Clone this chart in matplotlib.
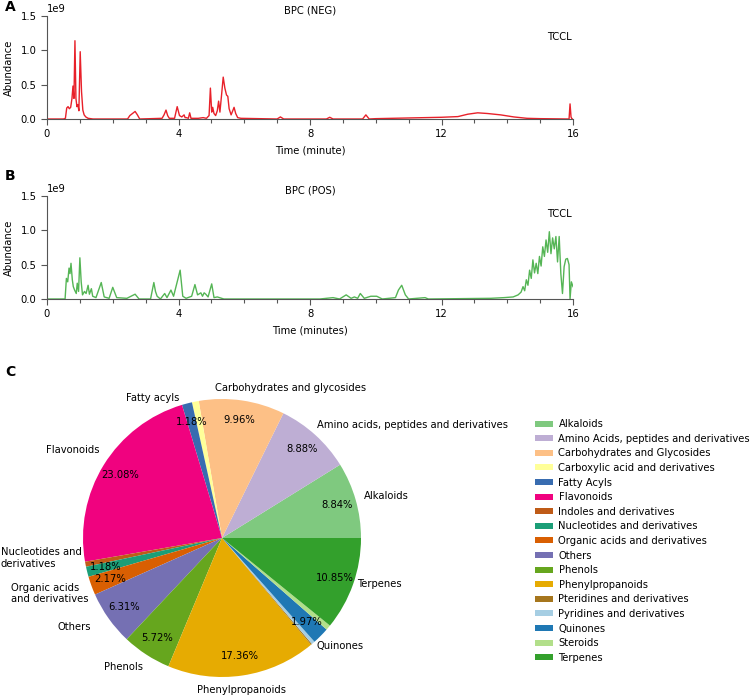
import matplotlib
matplotlib.use("Agg")
import matplotlib.pyplot as plt
from matplotlib.ticker import MultipleLocator
import numpy as np

plt.rcParams['font.family'] = ['DejaVu Sans']
FS = 7.2

# ---------------- data ----------------
neg_time = [0, 0.5, 0.56, 0.60, 0.64, 0.68, 0.72, 0.76, 0.79, 0.82, 0.85, 0.88, 0.91, 0.94,
            0.97, 1.01, 1.05, 1.09, 1.13, 1.18, 1.25, 1.4, 2.45, 2.52, 2.6, 2.68, 2.75, 2.82,
            3.5, 3.56, 3.62, 3.67, 3.72, 3.88, 3.96, 4.03, 4.1, 4.17, 4.2, 4.24, 4.3, 4.34,
            4.38, 4.6, 4.75, 4.85, 4.93, 4.97, 5.01, 5.04, 5.08, 5.13, 5.18, 5.22, 5.26, 5.31,
            5.36, 5.41, 5.46, 5.5, 5.54, 5.6, 5.65, 5.69, 5.74, 5.8, 5.9, 7.0, 7.1, 7.2, 8.5,
            8.6, 8.7, 9.6, 9.7, 9.8, 10.0, 11.0, 12.0, 12.5, 12.8, 13.1, 13.4, 13.8, 14.2, 14.6,
            15.0, 15.88, 15.91, 15.94, 15.97, 16.0]
neg_abund = [0, 0, 0.01, 0.16, 0.18, 0.15, 0.17, 0.30, 0.48, 0.30, 1.14, 0.30, 0.18, 0.21,
             0.12, 0.98, 0.40, 0.13, 0.06, 0.03, 0.01, 0.0, 0.0, 0.05, 0.08, 0.11, 0.06, 0.0,
             0.01, 0.06, 0.13, 0.05, 0.01, 0.01, 0.18, 0.05, 0.03, 0.06, 0.02, 0.02, 0.01, 0.09,
             0.01, 0.01, 0.02, 0.01, 0.05, 0.45, 0.10, 0.17, 0.08, 0.05, 0.12, 0.26, 0.10, 0.35,
             0.61, 0.45, 0.35, 0.33, 0.15, 0.06, 0.12, 0.17, 0.08, 0.02, 0.01, 0.0, 0.03, 0.0, 0.0,
             0.025, 0.0, 0.0, 0.06, 0.0, 0.005, 0.015, 0.025, 0.035, 0.07, 0.09, 0.08, 0.06, 0.03, 0.01,
             0.005, 0.0, 0.22, 0.03, 0.0, 0.0]

pos_time = [0, 0.55, 0.59, 0.63, 0.67, 0.70, 0.73, 0.77, 0.80, 0.84, 0.89, 0.92, 0.96, 1.00,
            1.04, 1.08, 1.14, 1.19, 1.25, 1.29, 1.35, 1.39, 1.49, 1.65, 1.74, 1.89, 2.0, 2.12,
            2.43, 2.68, 2.80, 3.15, 3.25, 3.30, 3.35, 3.45, 3.58, 3.65, 3.77, 3.85, 4.05, 4.13,
            4.23, 4.40, 4.50, 4.58, 4.68, 4.73, 4.78, 4.83, 4.90, 5.01, 5.08, 5.18, 5.38, 7.0,
            8.3, 8.7, 8.9, 9.1, 9.25, 9.35, 9.45, 9.53, 9.65, 9.85, 10.03, 10.2, 10.6, 10.69,
            10.79, 10.9, 11.0, 11.5, 11.6, 13.5, 13.9, 14.18, 14.33, 14.42, 14.48, 14.53, 14.58,
            14.63, 14.68, 14.73, 14.78, 14.83, 14.88, 14.93, 14.98, 15.03, 15.08, 15.13, 15.18,
            15.23, 15.28, 15.33, 15.38, 15.43, 15.48, 15.53, 15.58, 15.63, 15.68, 15.73, 15.78,
            15.83, 15.88, 15.91, 15.95, 16.0]
pos_abund = [0, 0, 0.30, 0.25, 0.45, 0.37, 0.52, 0.28, 0.18, 0.13, 0.08, 0.23, 0.11, 0.60,
             0.25, 0.06, 0.11, 0.08, 0.20, 0.07, 0.15, 0.04, 0.02, 0.24, 0.03, 0.01, 0.17, 0.02,
             0.01, 0.07, 0.0, 0.0, 0.24, 0.11, 0.04, 0.0, 0.08, 0.02, 0.13, 0.04, 0.42, 0.04,
             0.01, 0.04, 0.21, 0.06, 0.09, 0.04, 0.09, 0.07, 0.03, 0.22, 0.02, 0.03, 0.0, 0.0,
             0.0, 0.02, 0.0, 0.06, 0.01, 0.03, 0.01, 0.08, 0.01, 0.04, 0.04, 0.0, 0.02, 0.13,
             0.20, 0.06, 0.0, 0.02, 0.0, 0.01, 0.02, 0.03, 0.06, 0.10, 0.18, 0.12, 0.28,
             0.20, 0.42, 0.30, 0.57, 0.38, 0.52, 0.37, 0.62, 0.48, 0.76, 0.62, 0.86,
             0.68, 0.98, 0.66, 0.89, 0.73, 0.91, 0.54, 0.91, 0.37, 0.08, 0.47, 0.58,
             0.59, 0.50, 0.0, 0.25, 0.18]

x_ticks = [0, 4, 8, 12, 16]

pie_categories = ["Alkaloids", "Amino Acids, peptides and derivatives", "Carbohydrates and Glycosides",
                  "Carboxylic acid and derivatives", "Fatty Acyls", "Flavonoids",
                  "Indoles and derivatives", "Nucleotides and derivatives",
                  "Organic acids and derivatives", "Others", "Phenols", "Phenylpropanoids",
                  "Pteridines and derivatives", "Pyridines and derivatives", "Quinones",
                  "Steroids", "Terpenes"]
pie_values = [8.84, 8.88, 9.96, 0.79, 1.18, 23.08, 0.59, 1.18, 2.17, 6.31, 5.72, 17.36,
              0.14, 0.39, 1.97, 0.59, 10.85]
pie_labels = ["Alkaloids", "Amino acids, peptides and derivatives", "Carbohydrates and glycosides",
              "", "Fatty acyls", "Flavonoids", "", "Nucleotides and\nderivatives",
              "Organic acids\nand derivatives", "Others", "Phenols", "Phenylpropanoids",
              "", "", "Quinones", "", "Terpenes"]

# ---------------- style ----------------
pie_colors = ["#7fc97f", "#beaed4", "#fdc086", "#ffff99", "#386cb0", "#f0027f", "#bf5b17",
              "#1b9e77", "#d95f02", "#7570b3", "#66a61e", "#e6ab02", "#a6761d",
              "#a6cee3", "#1f78b4", "#b2df8a", "#33a02c"]
# label anchor positions (pie radius units) and alignment
label_pos = [(1.02, 0.30, 'left'), (0.68, 0.81, 'left'), (-0.05, 1.08, 'left'), None,
             (-0.31, 1.01, 'right'), (-0.88, 0.63, 'right'), None, (-1.01, -0.145, 'right'),
             (-0.96, -0.40, 'right'), (-0.94, -0.64, 'right'), (-0.57, -0.93, 'right'),
             (0.14, -1.09, 'center'), None, None, (0.68, -0.78, 'left'), None,
             (0.97, -0.33, 'left')]

W, H = 753, 700
fig = plt.figure(figsize=(W / 100, H / 100), dpi=100)


def chrom(rect, t, a, color, title, xlabel, tccl_y):
    ax = fig.add_axes(rect)
    ax.plot(t, np.array(a) * 1e9, color=color, lw=1.0)
    ax.set_xlim(0, 16)
    ax.set_ylim(0, 1.5e9)
    ax.set_xticks(x_ticks)
    ax.xaxis.set_minor_locator(MultipleLocator(1))
    ax.yaxis.set_major_locator(MultipleLocator(0.5e9))
    ax.ticklabel_format(axis='y', style='sci', scilimits=(0, 0))
    ax.yaxis.get_offset_text().set_fontsize(FS)
    for s in ('top', 'right'):
        ax.spines[s].set_visible(False)
    for s in ('left', 'bottom'):
        ax.spines[s].set_color('#555555')
        ax.spines[s].set_linewidth(0.8)
    ax.tick_params(axis='both', which='major', labelsize=FS, length=4, width=0.8, color='#555555', pad=3.5)
    ax.tick_params(axis='x', which='minor', length=3, width=0.8, color='#555555')
    ax.set_ylabel("Abundance", fontsize=FS, labelpad=5)
    ax.set_xlabel(xlabel, fontsize=FS, labelpad=4.5)
    ax.set_title(title, fontsize=FS, pad=2)
    ax.text(15.6, tccl_y, "TCCL", fontsize=FS, ha='center', va='center')
    return ax


axA = chrom([47 / W, 1 - 119 / H, 526 / W, 103 / H], neg_time, neg_abund, '#e8212a',
            "BPC (NEG)", "Time (minute)", 1.2e9)
axB = chrom([47 / W, 1 - 299 / H, 526 / W, 103 / H], pos_time, pos_abund, '#55b555',
            "BPC (POS)", "Time (minutes)", 1.24e9)

fig.text(5 / W, 1 - 7 / H, "A", fontsize=10, fontweight='bold', ha='left', va='center')
fig.text(5 / W, 1 - 176 / H, "B", fontsize=10, fontweight='bold', ha='left', va='center')
fig.text(5 / W, 1 - 372 / H, "C", fontsize=10, fontweight='bold', ha='left', va='center')

# ---------------- pie ----------------
R = 139.0
cx, cy = 222.0, H - 538.0
half = 1.15 * R
axC = fig.add_axes([(cx - half) / W, (cy - half) / H, 2 * half / W, 2 * half / H])
wedges, _, autotexts = axC.pie(pie_values, colors=pie_colors, startangle=0, counterclock=True,
                               autopct=lambda p: f"{p:.2f}%" if p > 1 else "",
                               pctdistance=0.86, wedgeprops=dict(linewidth=0),
                               textprops=dict(fontsize=FS))
axC.set_xlim(-1.15, 1.15)
axC.set_ylim(-1.15, 1.15)
axC.set_aspect('equal')
for lab, p in zip(pie_labels, label_pos):
    if lab and p is not None:
        axC.text(p[0], p[1], lab, ha=p[2], va='center', fontsize=FS, multialignment='left')

leg = fig.legend(wedges, pie_categories, loc='center left',
                 bbox_to_anchor=(535 / W, 1 - 541 / H), frameon=False, fontsize=FS,
                 handlelength=1.75, handleheight=0.55, handletextpad=0.6,
                 labelspacing=0.46, borderpad=0, borderaxespad=0)

fig.savefig("out.png", dpi=100)
